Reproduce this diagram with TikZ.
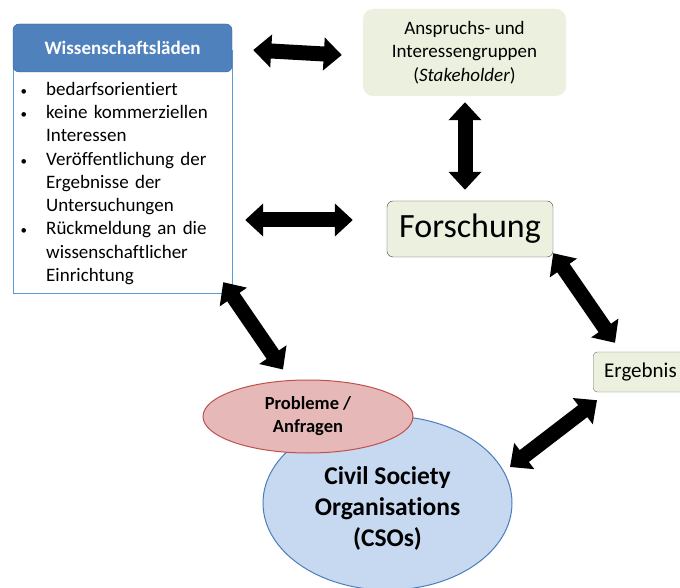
\documentclass[tikz,border=0pt]{standalone}
\usepackage{fontspec}
\setmainfont{Carlito}[Ligatures=NoCommon]
\usepackage{tikz}
\usetikzlibrary{positioning}
\usetikzlibrary{shapes.geometric}
\usetikzlibrary{arrows.meta}
\usetikzlibrary{calc}

\definecolor{wlblue}{HTML}{4F81BD}
\definecolor{wldark}{HTML}{385D8A}
\definecolor{lstblue}{HTML}{5B9BD5}
\definecolor{stkgreen}{HTML}{EBF1DE}
\definecolor{csofill}{HTML}{C6D9F1}
\definecolor{csodraw}{HTML}{4A7EBB}
\definecolor{probfill}{HTML}{E6B9B8}
\definecolor{probdraw}{HTML}{C0504D}

\begin{document}
\begin{tikzpicture}[x=1pt, y=1pt,
    hdr/.style={fill=wlblue, draw=wldark, rounded corners=6pt, minimum width=219pt, minimum height=48pt, text=white, font=\bfseries\fontsize{19}{23}\selectfont},
    lst/.style={fill=white, draw=lstblue, minimum width=219pt, minimum height=243pt},
    stk/.style={fill=stkgreen, rounded corners=10pt, minimum width=203pt, minimum height=87pt, align=center, font=\fontsize{19}{23.5}\selectfont},
    res/.style={fill=stkgreen, draw=black!75, rounded corners=6pt, minimum width=166pt, minimum height=56pt, font=\fontsize{34}{40}\selectfont},
    erg/.style={fill=stkgreen, draw=black!55, rounded corners=4pt, minimum height=40pt, inner xsep=11pt, font=\fontsize{21}{25}\selectfont},
    prob/.style={ellipse, fill=probfill, draw=probdraw, line width=1pt, minimum width=210pt, minimum height=73pt, inner sep=0pt, align=center, font=\bfseries\fontsize{18.5}{23}\selectfont},
    cso/.style={ellipse, fill=csofill, draw=csodraw, line width=1pt, minimum width=249pt, minimum height=174pt, inner sep=0pt},
    csotxt/.style={align=center, inner sep=0pt, font=\bfseries\fontsize{25.5}{31}\selectfont},
    dbl/.style={line width=15pt, {Triangle[width=32pt 0 0, length=18pt 0 0]}-{Triangle[width=32pt 0 0, length=18pt 0 0]}}]
    \useasboundingbox (0,0) rectangle (680,587);

    % Wissenschaftslaeden
    \node[lst] (body) at (122.5,415.5) {};
    \node[hdr] (wl) at (122.5,539) {Wissenschaftsläden};
    \node[anchor=north west, text width=205pt, inner sep=0pt, font=\fontsize{19}{23.25}\selectfont] (txt) at (16,515) {%
      \raggedright
      \begin{list}{\fontsize{13}{13}\selectfont\textbullet}{\setlength{\leftmargin}{30pt}\setlength{\labelwidth}{8pt}\setlength{\labelsep}{19pt}%
        \setlength{\itemsep}{0pt}\setlength{\parsep}{0pt}\setlength{\topsep}{0pt}\setlength{\partopsep}{0pt}}
      \item bedarfsorientiert
      \item keine kommerziellen\newline Interessen
      \item Veröffentlichung der\newline Ergebnisse der\newline Untersuchungen
      \item Rückmeldung an die\newline wissenschaftlicher\newline Einrichtung
      \end{list}};

    \node[stk] (stake) at (464.5,534.5) {Anspruchs- und\\Interessengruppen\\(\textit{Stakeholder})};
    \node[res] (forsch) at (470,358) {Forschung};
    \node[erg, anchor=west] (ergeb) at (593,215) {Ergebnis};

    \node[cso] (civ) at (387.5,84) {};
    \node[csotxt] (civtxt) at ([yshift=-5pt]civ.center) {Civil Society\\Organisations\\(CSOs)};
    \node[prob] (probl) at (308,170.5) {Probleme /\\Anfragen};

    % arrows
    \draw[dbl] ([shift={(21,-2)}]wl.east) -- ([shift={(-21,-2.5)}]stake.west);
    \draw[dbl] ($(forsch.west -| body.east)+(13,9)$) -- ([shift={(-34,9)}]forsch.west);
    \draw[dbl] ([shift={(0.5,-6)}]stake.south) -- ([shift={(-5,11)}]forsch.north);
    \draw[dbl] ([shift={(-9,11)}]body.south east) -- ([shift={(-25,10)}]probl.north);
    \draw[dbl] ([shift={(0,4)}]forsch.south east) -- ([shift={(22,9)}]ergeb.north west);
    \draw[dbl] ([shift={(4,-8)}]ergeb.south west) -- ([shift={(122.5,36)}]civ.center);
\end{tikzpicture}
\end{document}
